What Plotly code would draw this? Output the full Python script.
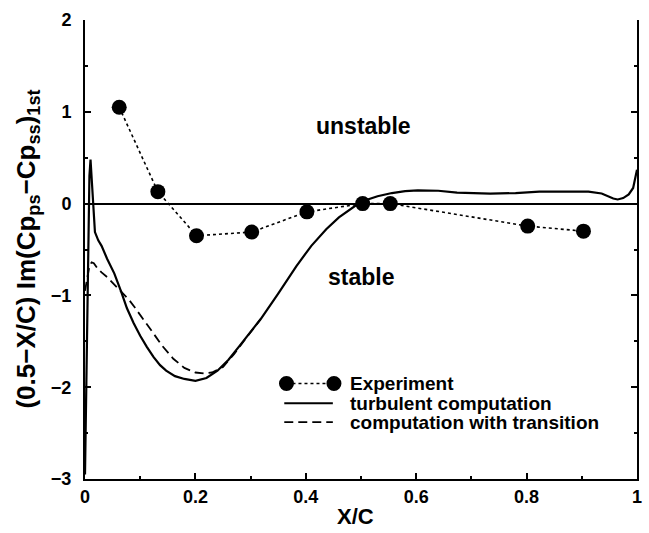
import plotly.graph_objects as go

# ---------------- data ----------------
exp_x = [0.062, 0.132, 0.202, 0.302, 0.402, 0.503, 0.553, 0.802, 0.903]
exp_y = [1.05, 0.13, -0.35, -0.31, -0.09, 0.0, 0.0, -0.245, -0.30]

turb_x = [0.0, 0.004, 0.008, 0.010, 0.014, 0.018, 0.024, 0.030, 0.040, 0.053,
          0.065, 0.076, 0.088, 0.100, 0.112, 0.124, 0.136, 0.147, 0.163, 0.180,
          0.200, 0.220, 0.240, 0.260, 0.280, 0.300, 0.318, 0.350, 0.383, 0.410,
          0.437, 0.460, 0.480, 0.500, 0.530, 0.556, 0.580, 0.603, 0.640, 0.674,
          0.734, 0.780, 0.823, 0.870, 0.912, 0.936, 0.948, 0.957, 0.965, 0.975,
          0.985, 0.993, 1.000]
turb_y = [-2.95, -1.0, 0.30, 0.48, 0.10, -0.31, -0.40, -0.46, -0.60, -0.76,
          -0.95, -1.14, -1.30, -1.44, -1.56, -1.67, -1.76, -1.82, -1.88, -1.91,
          -1.93, -1.90, -1.82, -1.70, -1.55, -1.40, -1.26, -0.98, -0.68, -0.46,
          -0.28, -0.15, -0.06, 0.02, 0.08, 0.115, 0.135, 0.145, 0.14, 0.12,
          0.108, 0.115, 0.13, 0.13, 0.13, 0.11, 0.08, 0.055, 0.045, 0.06,
          0.10, 0.17, 0.37]

trans_x = [0.0, 0.004, 0.008, 0.012, 0.016, 0.022, 0.030, 0.040, 0.050, 0.060,
           0.070, 0.080, 0.090, 0.100, 0.120, 0.140, 0.160, 0.180, 0.200, 0.215,
           0.230, 0.250, 0.270, 0.290, 0.318]
trans_y = [-0.95, -0.80, -0.68, -0.64, -0.65, -0.70, -0.75, -0.80, -0.86, -0.92,
           -0.98, -1.05, -1.13, -1.21, -1.38, -1.55, -1.69, -1.79, -1.84, -1.85,
           -1.84, -1.78, -1.64, -1.48, -1.26]

x_ticks = [0, 0.2, 0.4, 0.6, 0.8, 1.0]
x_tick_text = ["0", "0.2", "0.4", "0.6", "0.8", "1"]
y_ticks = [-3, -2, -1, 0, 1, 2]
y_tick_text = ["\u22123", "\u22122", "\u22121", "0", "1", "2"]

legend_labels = ["Experiment", "turbulent computation", "computation with transition"]

# ---------------- figure ----------------
FONT = "Liberation Sans, Arial, Helvetica, sans-serif"

fig = go.Figure()
fig.add_trace(go.Scatter(x=turb_x, y=turb_y, mode="lines",
                         line=dict(color="black", width=2.2), showlegend=False))
fig.add_trace(go.Scatter(x=trans_x, y=trans_y, mode="lines",
                         line=dict(color="black", width=1.8, dash="9px,5px"),
                         showlegend=False))
fig.add_trace(go.Scatter(x=exp_x, y=exp_y, mode="lines+markers",
                         line=dict(color="black", width=1.6, dash="dot"),
                         marker=dict(color="black", size=15),
                         showlegend=False))

# legend (manual)
leg_rows = [0.208, 0.165, 0.124]
lx0, lx1, ltext = 0.365, 0.451, 0.476
shapes = []
shapes.append(dict(type="line", xref="paper", yref="paper", x0=lx0, x1=lx1,
                   y0=leg_rows[0], y1=leg_rows[0],
                   line=dict(color="black", width=1.6, dash="dot")))
for px in (lx0, lx1):
    shapes.append(dict(type="circle", xref="paper", yref="paper",
                       xsizemode="pixel", ysizemode="pixel",
                       xanchor=px, yanchor=leg_rows[0],
                       x0=-7.5, x1=7.5, y0=-7.5, y1=7.5,
                       fillcolor="black", line=dict(color="black", width=0)))
shapes.append(dict(type="line", xref="paper", yref="paper", x0=lx0 - 0.004, x1=lx1 - 0.002,
                   y0=leg_rows[1], y1=leg_rows[1], line=dict(color="black", width=2.2)))
shapes.append(dict(type="line", xref="paper", yref="paper", x0=lx0 - 0.004, x1=lx1 - 0.002,
                   y0=leg_rows[2], y1=leg_rows[2],
                   line=dict(color="black", width=1.8, dash="9px,5px")))

annotations = []
for lab, ry in zip(legend_labels, leg_rows):
    annotations.append(dict(text=lab, xref="paper", yref="paper", x=ltext, y=ry,
                            xanchor="left", yanchor="middle", showarrow=False,
                            font=dict(family=FONT, size=19, color="black", weight="bold")))
annotations.append(dict(text="unstable", xref="x", yref="y", x=0.505, y=0.85,
                        showarrow=False,
                        font=dict(family=FONT, size=23, color="black", weight="bold")))
annotations.append(dict(text="stable", xref="x", yref="y", x=0.50, y=-0.80,
                        showarrow=False,
                        font=dict(family=FONT, size=23, color="black", weight="bold")))
annotations.append(dict(text="X/C", xref="paper", yref="paper", x=0.49, y=-0.082,
                        xanchor="center", yanchor="middle", showarrow=False,
                        font=dict(family=FONT, size=22, color="black", weight="bold")))
annotations.append(dict(text="(0.5\u2212X/C) Im(Cp<sub>ps</sub>\u2212Cp<sub>ss</sub>)<sub>1st</sub>",
                        xref="paper", yref="paper", x=-0.105, y=0.5, textangle=-90,
                        xanchor="center", yanchor="middle", showarrow=False,
                        font=dict(family=FONT, size=26, color="black", weight="bold")))

fig.update_layout(
    width=649, height=533,
    margin=dict(l=85, r=7, t=20, b=54),
    paper_bgcolor="white", plot_bgcolor="white",
    shapes=shapes, annotations=annotations,
    showlegend=False,
    xaxis=dict(range=[0, 1], tickvals=x_ticks, ticktext=x_tick_text,
               ticks="inside", ticklen=6, tickwidth=1.5, tickcolor="black",
               minor=dict(dtick=0.1, ticks="inside", ticklen=3, tickcolor="black"),
               showline=True, linecolor="black", linewidth=2, showgrid=False,
               zeroline=False,
               tickfont=dict(family=FONT, size=18, color="black", weight="bold")),
    yaxis=dict(range=[-3, 2], tickvals=y_ticks, ticktext=y_tick_text,
               ticks="inside", ticklen=6, tickwidth=1.5, tickcolor="black",
               minor=dict(dtick=0.5, ticks="inside", ticklen=3, tickcolor="black"),
               showline=True, linecolor="black", linewidth=2, showgrid=False,
               mirror="allticks",
               zeroline=True, zerolinecolor="black", zerolinewidth=1.5,
               ticklabelstandoff=8,
               tickfont=dict(family=FONT, size=18, color="black", weight="bold")),
)

fig.write_html("out.html")
